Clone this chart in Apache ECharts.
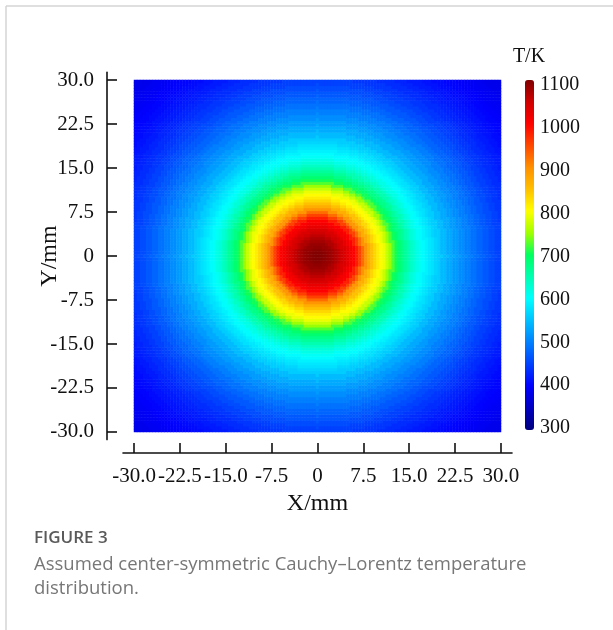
<!DOCTYPE html>
<html>
<head>
<meta charset="utf-8">
<script src="https://cdn.jsdelivr.net/npm/echarts@6/dist/echarts.min.js"></script>
<style>
html,body{margin:0;padding:0;background:#fff;}
#chart{width:613px;height:630px;}
</style>
</head>
<body>
<div id="chart"></div>
<script>
// ---- data ----
const xTicks = [-30, -22.5, -15, -7.5, 0, 7.5, 15, 22.5, 30];
const xTickLabels = ['-30.0', '-22.5', '-15.0', '-7.5', '0', '7.5', '15.0', '22.5', '30.0'];
const yTicks = [-30, -22.5, -15, -7.5, 0, 7.5, 15, 22.5, 30];
const yTickLabels = ['-30.0', '-22.5', '-15.0', '-7.5', '0', '7.5', '15.0', '22.5', '30.0'];
const barTicks = [300, 400, 500, 600, 700, 800, 900, 1000, 1100];
// radial temperature profile (distance from centre, mm -> T, K)
const radiusMm = [0, 0.5, 1, 1.5, 2, 2.5, 3, 3.5, 4, 4.5, 5, 5.5, 6, 6.5, 7, 7.5, 8, 8.5, 9, 9.5,
  10, 10.5, 11, 11.5, 12, 12.5, 13, 13.5, 14, 14.5, 15, 15.5, 16, 16.5, 17, 17.5, 18, 18.5, 19, 19.5,
  20, 21, 22, 23, 24, 25, 26, 27, 28, 29, 30, 31, 32, 33, 34, 35, 36, 37, 38, 39, 40, 41, 42, 43];
const tempK = [1100, 1098, 1095, 1090, 1085, 1078, 1070, 1060, 1050, 1038, 1025, 1012, 1000, 980, 955, 925, 895, 870, 850, 832,
  815, 802, 790, 770, 748, 725, 705, 690, 676, 663, 650, 637, 625, 615, 606, 598, 590, 582, 575, 567,
  560, 546, 533, 521, 510, 499, 489, 479, 469, 459, 450, 442, 434, 427, 420, 414, 408, 403, 398, 394, 390, 386, 383, 380];
const colorStops = ['#00007f', '#0000c0', '#0000ff', '#0040ff', '#0080ff', '#00c0ff', '#00ffff', '#00ffb0',
  '#00ff60', '#a0ff00', '#ffff00', '#ffc000', '#ff9000', '#ff4800', '#ff0000', '#d00000', '#800000'];

// ---- build heatmap table (0.5 mm cells) ----
const cells = [];
for (let v = -30; v <= 30.0001; v += 0.5) cells.push(+v.toFixed(1));
const xCats = cells.map(String);
const yCats = cells.map(String);
function lookup(d) {
  let best = 0, bd = Infinity;
  for (let k = 0; k < radiusMm.length; k++) {
    const e = Math.abs(radiusMm[k] - d);
    if (e < bd) { bd = e; best = k; }
  }
  return tempK[best];
}
const heat = [];
for (let i = 0; i < cells.length; i++) {
  for (let j = 0; j < cells.length; j++) {
    heat.push([i, j, lookup(Math.sqrt(cells[i] * cells[i] + cells[j] * cells[j]))]);
  }
}

const serif = '"Liberation Serif", "DejaVu Serif", serif';
const sans = '"Open Sans", "Noto Sans", sans-serif';

const chart = echarts.init(document.getElementById('chart'), null, {renderer: 'canvas'});
chart.setOption({
  animation: false,
  backgroundColor: '#fff',
  grid: [
    {left: 134, top: 80, width: 367, height: 352},
    {left: 123, top: 72.4, width: 389, height: 367.2},
    {left: 500, top: 85, width: 34, height: 343}
  ],
  xAxis: [
    {type: 'category', gridIndex: 0, data: xCats, show: false},
    {
      type: 'value', gridIndex: 1, min: -31.8, max: 31.8, position: 'bottom', offset: 13.4,
      axisLine: {show: true, onZero: false, lineStyle: {color: '#111', width: 1.6}},
      axisTick: {show: true, inside: true, length: 10, customValues: xTicks, lineStyle: {color: '#111', width: 1.6}},
      axisLabel: {show: true, customValues: xTicks, margin: 13, fontSize: 21, fontFamily: serif, color: '#111',
        formatter: v => xTickLabels[xTicks.indexOf(v)]},
      splitLine: {show: false},
      name: 'X/mm', nameLocation: 'middle', nameGap: 39, nameMoveOverlap: false,
      nameTextStyle: {fontSize: 24, fontFamily: serif, color: '#111'}
    },
    {type: 'value', gridIndex: 2, show: false}
  ],
  yAxis: [
    {type: 'category', gridIndex: 0, data: yCats, show: false},
    {
      type: 'value', gridIndex: 1, min: -31.3, max: 31.3, position: 'left', offset: 16,
      axisLine: {show: true, onZero: false, lineStyle: {color: '#111', width: 1.6}},
      axisTick: {show: true, inside: true, length: 10, customValues: yTicks, lineStyle: {color: '#111', width: 1.6}},
      axisLabel: {show: true, customValues: yTicks, margin: 13, fontSize: 21, fontFamily: serif, color: '#111',
        formatter: v => yTickLabels[yTicks.indexOf(v)]},
      splitLine: {show: false},
      name: 'Y/mm', nameLocation: 'middle', nameGap: 45, nameRotate: 90, nameMoveOverlap: false,
      nameTextStyle: {fontSize: 24, fontFamily: serif, color: '#111'}
    },
    {
      type: 'value', gridIndex: 2, min: 300, max: 1100, interval: 100, position: 'right',
      axisLine: {show: false}, axisTick: {show: false}, splitLine: {show: false},
      axisLabel: {show: true, margin: 6, fontSize: 20, fontFamily: serif, color: '#111',
        formatter: v => String(barTicks[barTicks.indexOf(v)])}
    }
  ],
  visualMap: {
    type: 'continuous', min: 300, max: 1100, seriesIndex: 0, calculable: false, show: true,
    orient: 'vertical', left: 525, top: 80, itemWidth: 9, itemHeight: 350, padding: 0,
    inRange: {color: colorStops}
  },
  graphic: [
    {type: 'line', shape: {x1: 6, y1: 6, x2: 613, y2: 6}, style: {stroke: '#d4d4d4', lineWidth: 1.5}},
    {type: 'line', shape: {x1: 6, y1: 6, x2: 6, y2: 630}, style: {stroke: '#d4d4d4', lineWidth: 1.5}},
    {type: 'text', x: 529, y: 57, style: {text: 'T/K', font: '20px ' + serif, fill: '#111', align: 'center', verticalAlign: 'middle'}},
    {type: 'text', left: 34, top: 530, style: {text: 'FIGURE 3', font: '600 17px ' + sans, fill: '#5a5a5a'}},
    {type: 'text', left: 34, top: 555, style: {text: 'Assumed center-symmetric Cauchy\u2013Lorentz temperature', font: '18.5px ' + sans, fill: '#777'}},
    {type: 'text', left: 34, top: 579, style: {text: 'distribution.', font: '18.5px ' + sans, fill: '#777'}}
  ],
  series: [{
    type: 'heatmap', xAxisIndex: 0, yAxisIndex: 0, data: heat, progressive: 0,
    emphasis: {disabled: true}, itemStyle: {borderWidth: 0}
  }]
});
</script>
</body>
</html>
